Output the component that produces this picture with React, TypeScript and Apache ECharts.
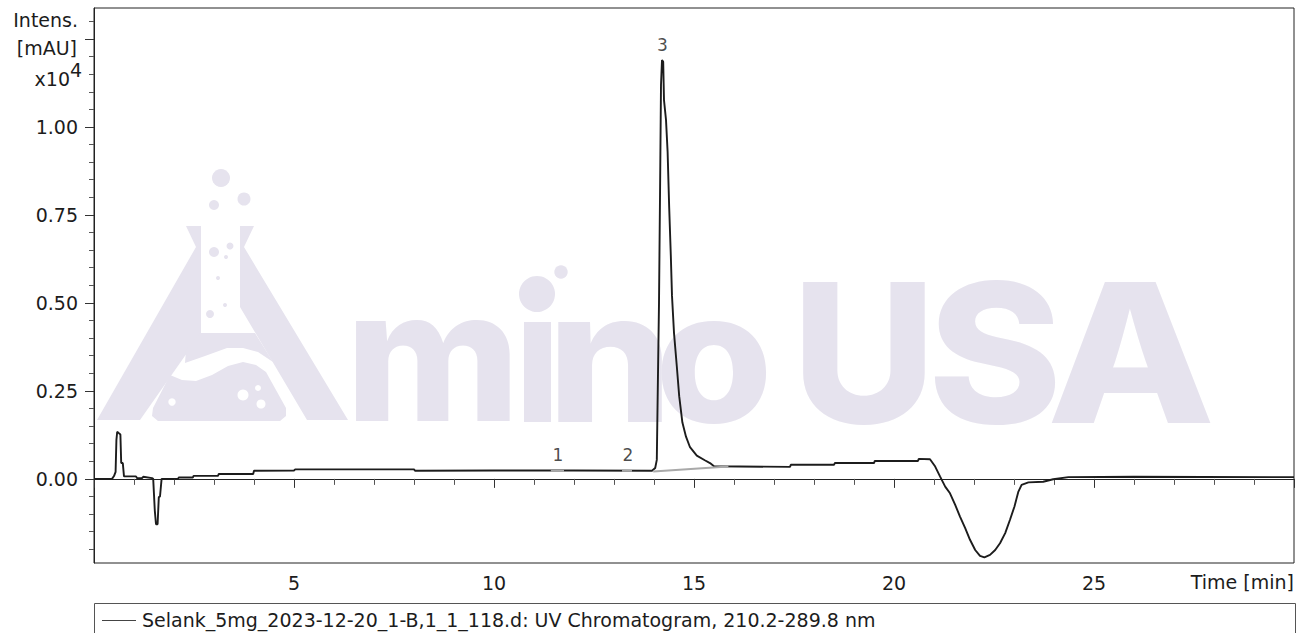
import React, { useEffect, useRef } from 'react';
import * as echarts from 'echarts';

// ---------- data ----------
const seriesName = 'Selank_5mg_2023-12-20_1-B,1_1_118.d: UV Chromatogram, 210.2-289.8 nm';

// retention time [min]
const traceTime: number[] = [
  0.0, 0.45, 0.5, 0.54, 0.56, 0.58, 0.62, 0.66, 0.68, 0.72, 0.75, 1.05, 1.08, 1.2, 1.23, 1.45,
  1.48, 1.52, 1.55, 1.59, 1.62, 1.65, 1.69, 2.1, 2.12, 2.47, 2.49, 3.1, 3.12, 3.98, 4.0, 5.0,
  5.03, 8.0, 8.03, 10.0, 12.0, 13.95, 14.03, 14.07, 14.1, 14.125, 14.15, 14.175, 14.2, 14.23,
  14.25, 14.3, 14.34, 14.38, 14.42, 14.45, 14.5, 14.57, 14.63, 14.71, 14.8, 14.9, 15.07, 15.27,
  15.4, 15.5, 17.4, 17.42, 18.5, 18.52, 19.5, 19.52, 20.6, 20.62, 20.9, 21.03, 21.15, 21.28,
  21.4, 21.53, 21.65, 21.78, 21.9, 22.03, 22.15, 22.26, 22.4, 22.53, 22.65, 22.78, 22.9, 23.01,
  23.11, 23.19, 23.36, 23.73, 23.98, 24.36, 26.0, 30.0,
];
// intensity [mAU x10^4]
const traceIntensity: number[] = [
  0.0, 0.0, 0.008, 0.02, 0.11, 0.134, 0.13, 0.126, 0.045, 0.045, 0.007, 0.007, 0.002, 0.002, 0.006, 0.002,
  0.0, -0.09, -0.129, -0.129, -0.052, -0.05, 0.0, 0.0, 0.004, 0.004, 0.0085, 0.0085, 0.014, 0.014, 0.023, 0.024,
  0.027, 0.027, 0.023, 0.024, 0.024, 0.023, 0.031, 0.054, 0.3, 0.5, 0.8, 1.12, 1.19, 1.185,
  1.076, 1.02, 0.93, 0.77, 0.636, 0.52, 0.415, 0.32, 0.235, 0.16, 0.12, 0.09, 0.066, 0.053,
  0.045, 0.036, 0.034, 0.04, 0.04, 0.045, 0.045, 0.051, 0.051, 0.057, 0.056, 0.035, 0.007, -0.022,
  -0.041, -0.074, -0.107, -0.14, -0.173, -0.202, -0.219, -0.223, -0.216, -0.202, -0.183, -0.154, -0.116, -0.079,
  -0.036, -0.017, -0.01, -0.008, -0.001, 0.005, 0.006, 0.005,
];

// integration baselines
const base1Time: number[] = [11.42, 11.75];
const base1Value: number[] = [0.023, 0.023];
const base2Time: number[] = [13.2, 13.45];
const base2Value: number[] = [0.023, 0.023];
const base3Time: number[] = [13.98, 15.86];
const base3Value: number[] = [0.021, 0.035];

// peak labels
const peakNames: string[] = ['1', '2', '3'];
const peakTimes: number[] = [11.6, 13.35, 14.21];
const peakHeights: number[] = [0.023, 0.023, 1.19];

// axes
const xLabelValues: number[] = [5, 10, 15, 20, 25];
const yLabelValues: number[] = [0, 0.25, 0.5, 0.75, 1.0];
const yMajorTickValues: number[] = [0, 0.25, 0.5, 0.75, 1.0, 1.25];
const yMinorTickValues: number[] = [
  -0.2, -0.15, -0.1, -0.05, 0.05, 0.1, 0.15, 0.2, 0.3, 0.35, 0.4, 0.45, 0.55, 0.6, 0.65, 0.7,
  0.8, 0.85, 0.9, 0.95, 1.05, 1.1, 1.15, 1.2, 1.3,
];

const FONT = '"DejaVu Sans", Verdana, sans-serif';
const INK = '#1c1c1c';
const WM = '#e6e3ee';
const WM_FONT = 'Inter, "Open Sans", sans-serif';

function pairs(t: number[], v: number[]) {
  return t.map((x, i) => [x, v[i]]);
}

function watermark(): any[] {
  const poly = (points: number[][], fill = WM) => ({ type: 'polygon', z: 0, silent: true, shape: { points }, style: { fill } });
  const circ = (cx: number, cy: number, r: number, fill = WM) => ({ type: 'circle', z: 0, silent: true, shape: { cx, cy, r }, style: { fill } });
  const letter = (text: string, x: number, y: number, size: number, sx: number) => ({
    type: 'text', z: 0, silent: true, x, y, scaleX: sx,
    style: { text, fill: WM, font: `800 ${size}px ${WM_FONT}`, align: 'center', verticalAlign: 'middle', lineHeight: 100 },
  });
  return [
    // flask "A"
    poly([[186, 226], [201, 226], [201, 333], [140, 420], [97, 420], [196, 247]]),
    poly([[240, 226], [254, 226], [244, 247], [348, 420], [307, 420], [240, 307]]),
    poly([[200, 333], [255, 333], [273, 362], [258, 352], [243, 348], [227, 348], [205, 356], [185, 363], [186, 350]]),
    poly([[170, 375], [182, 380], [196, 381], [212, 375], [228, 366], [243, 362], [256, 365], [266, 372], [286, 408],
      [286, 416], [280, 421], [158, 421], [152, 416], [153, 408]]),
    circ(243, 395, 5.5, '#ffffff'), circ(258, 388, 3, '#ffffff'), circ(261, 404, 4.5, '#ffffff'), circ(172, 402, 3.7, '#ffffff'),
    circ(221, 178, 9), circ(244, 199, 6.5), circ(214, 205, 5), circ(214, 252, 5), circ(230, 246, 3.5),
    circ(226, 257, 2), circ(218, 278, 2), circ(225, 305, 2), circ(210, 314, 4),
    // "mino"
    letter('m', 433, 355, 183, 1.03),
    { type: 'rect', z: 0, silent: true, shape: { x: 524, y: 322, width: 27, height: 100 }, style: { fill: WM } },
    circ(537, 294, 18), circ(561, 272, 6.7),
    letter('n', 610, 355, 183, 1.08),
    letter('o', 714, 355, 183, 1.04),
    // "USA"
    letter('U', 864, 352, 194, 1.02),
    letter('S', 995, 352, 194, 1.05),
    letter('A', 1131, 352, 194, 1.13),
  ];
}

export default function App() {
  const ref = useRef<HTMLDivElement>(null);

  useEffect(() => {
    if (!ref.current) return;
    const chart = echarts.init(ref.current, undefined, { renderer: 'svg' });

    const axisText = { fontFamily: FONT, fontSize: 19, color: INK };

    const option: any = {
      animation: false,
      backgroundColor: '#ffffff',
      grid: { left: 94, right: 16, top: 8, bottom: 70, show: true, borderColor: '#222', borderWidth: 1, backgroundColor: 'transparent' },
      xAxis: {
        type: 'value',
        min: 0,
        max: 30,
        interval: 5,
        axisLine: { show: true, lineStyle: { color: '#222', width: 1 } },
        axisTick: { show: true, length: 9, lineStyle: { color: '#333' } },
        minorTick: { show: true, splitNumber: 5, length: 6, lineStyle: { color: '#555' } },
        splitLine: { show: false },
        axisLabel: {
          ...axisText,
          margin: 10,
          formatter: (v: number) => (xLabelValues.indexOf(v) >= 0 ? String(v) : ''),
        },
      },
      yAxis: [
        {
          type: 'value',
          min: -0.239,
          max: 1.338,
          axisLine: { show: true, lineStyle: { color: '#222', width: 1 } },
          axisTick: { show: true, length: 9, customValues: yMajorTickValues, lineStyle: { color: '#333' } },
          splitLine: { show: false },
          axisLabel: {
            ...axisText,
            margin: 16,
            customValues: yLabelValues,
            formatter: (v: number) => v.toFixed(2),
          },
        },
        {
          type: 'value',
          min: -0.239,
          max: 1.338,
          position: 'left',
          axisLine: { show: false },
          axisTick: { show: true, length: 5, customValues: yMinorTickValues, lineStyle: { color: '#555' } },
          splitLine: { show: false },
          axisLabel: { show: false },
        },
      ],
      graphic: [
        ...watermark(),
        { type: 'text', x: 78, y: 20, style: { text: 'Intens.', font: `19px ${FONT}`, fill: INK, align: 'right', verticalAlign: 'middle' } },
        { type: 'text', x: 77, y: 48, style: { text: '[mAU]', font: `19px ${FONT}`, fill: INK, align: 'right', verticalAlign: 'middle' } },
        { type: 'text', x: 70, y: 79, style: { text: 'x10', font: `19px ${FONT}`, fill: INK, align: 'right', verticalAlign: 'middle' } },
        { type: 'text', x: 70, y: 70, style: { text: '4', font: `19px ${FONT}`, fill: INK, align: 'left', verticalAlign: 'middle' } },
        { type: 'text', x: 1294, y: 582, style: { text: 'Time [min]', font: `19px ${FONT}`, fill: INK, align: 'right', verticalAlign: 'middle' } },
        // legend box
        { type: 'rect', shape: { x: 94.5, y: 603.5, width: 1201, height: 40 }, style: { fill: 'none', stroke: '#555', lineWidth: 1 } },
        { type: 'line', shape: { x1: 102, y1: 620.5, x2: 136, y2: 620.5 }, style: { stroke: '#444', lineWidth: 1 } },
        { type: 'text', x: 142, y: 620, style: { text: seriesName, font: `19px ${FONT}`, fill: INK, align: 'left', verticalAlign: 'middle' } },
      ],
      series: [
        {
          name: seriesName,
          type: 'line',
          data: pairs(traceTime, traceIntensity),
          symbol: 'none',
          showSymbol: false,
          silent: true,
          z: 3,
          lineStyle: { color: INK, width: 1.9 },
          itemStyle: { color: INK },
        },
        ...[pairs(base1Time, base1Value), pairs(base2Time, base2Value), pairs(base3Time, base3Value)].map((d) => ({
          name: 'baseline',
          type: 'line',
          data: d,
          symbol: 'none',
          silent: true,
          z: 4,
          lineStyle: { color: '#a9a9a9', width: 2 },
        })),
        {
          name: 'peaks',
          type: 'scatter',
          data: pairs(peakTimes, peakHeights),
          symbolSize: 0,
          silent: true,
          z: 5,
          label: {
            show: true,
            position: 'top',
            distance: 7,
            fontFamily: FONT,
            fontSize: 17,
            color: INK,
            formatter: (p: any) => peakNames[p.dataIndex],
          },
        },
      ],
    };

    chart.setOption(option);
    return () => chart.dispose();
  }, []);

  return <div ref={ref} style={{ position: 'absolute', left: 0, top: 0, width: 1310, height: 633 }} />;
}
